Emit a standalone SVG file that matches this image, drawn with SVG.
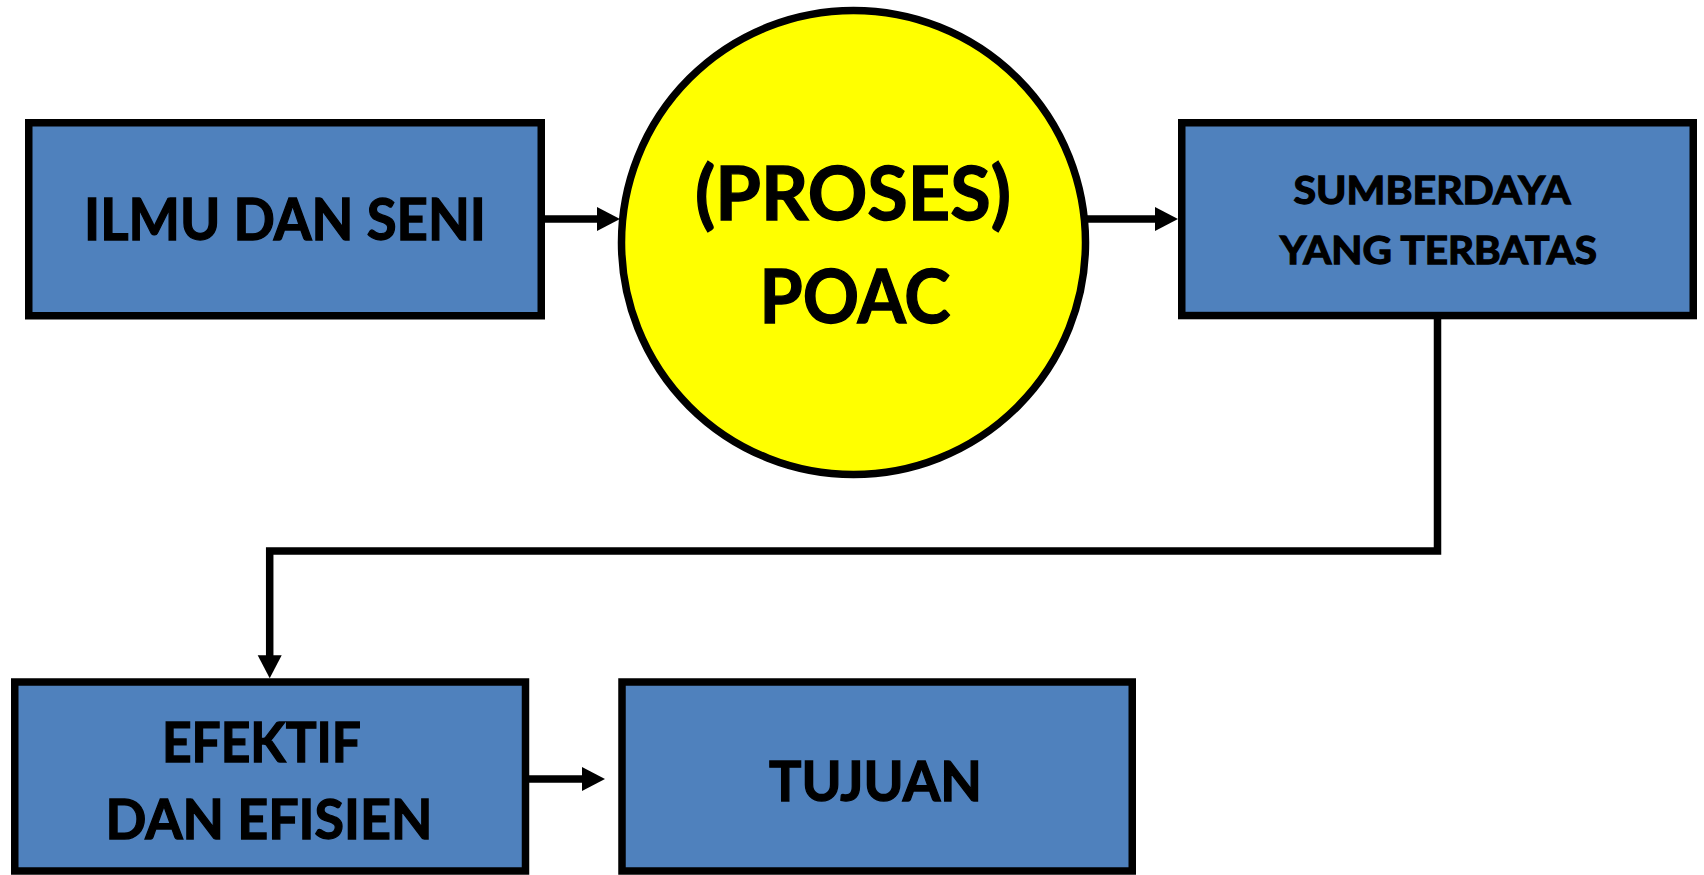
<svg xmlns="http://www.w3.org/2000/svg" width="1704" height="875" viewBox="0 0 1704 875">
<style>
.box{fill:#4F81BD;stroke:#000;stroke-width:7.5}
.circ{fill:#FFFF00;stroke:#000;stroke-width:7.5}
.con{fill:none;stroke:#000;stroke-width:7.5}
.t{font-family:Lato,"Open Sans","Liberation Sans",sans-serif;font-weight:bold;fill:#000;stroke:#000;stroke-width:1.3;text-anchor:middle}
</style>
<defs>
<marker id="ah" markerUnits="userSpaceOnUse" markerWidth="24" markerHeight="25" refX="13" refY="12" orient="auto" overflow="visible">
<path d="M0,0 L23,12 L0,24 Z" fill="#000"/>
</marker>
</defs>
<rect width="1704" height="875" fill="#fff"/>
<g id="connectors">
<path class="con" d="M541 219 H610" marker-end="url(#ah)"/>
<path class="con" d="M1086 219 H1168" marker-end="url(#ah)"/>
<path class="con" d="M1437.5 316 V551 H269.7 V668.3" marker-end="url(#ah)"/>
<path class="con" d="M526 779 H595" marker-end="url(#ah)"/>
</g>
<g id="ilmu">
<rect class="box" x="28.75" y="122.75" width="512.5" height="193"/>
<text class="t" x="285" y="240" font-size="57" textLength="402" lengthAdjust="spacingAndGlyphs">ILMU DAN SENI</text>
</g>
<g id="proses">
<circle class="circ" cx="853.5" cy="242.5" r="232"/>
<text class="t" x="853" y="220" font-size="74" textLength="316" lengthAdjust="spacingAndGlyphs">(PROSES)</text>
<text class="t" x="855" y="323" font-size="74" textLength="191" lengthAdjust="spacingAndGlyphs">POAC</text>
</g>
<g id="sumberdaya">
<rect class="box" x="1181.75" y="122.75" width="511.5" height="192.8"/>
<text class="t" x="1432" y="204" font-size="39" textLength="277" lengthAdjust="spacingAndGlyphs">SUMBERDAYA</text>
<text class="t" x="1438.5" y="264" font-size="39" textLength="317" lengthAdjust="spacingAndGlyphs">YANG TERBATAS</text>
</g>
<g id="efektif">
<rect class="box" x="14.75" y="682" width="510.75" height="189"/>
<text class="t" x="261.5" y="762" font-size="56" textLength="199" lengthAdjust="spacingAndGlyphs">EFEKTIF</text>
<text class="t" x="269" y="839" font-size="56" textLength="327" lengthAdjust="spacingAndGlyphs">DAN EFISIEN</text>
</g>
<g id="tujuan">
<rect class="box" x="622" y="682" width="510.25" height="189"/>
<text class="t" x="875.5" y="801" font-size="56" textLength="213" lengthAdjust="spacingAndGlyphs">TUJUAN</text>
</g>
</svg>
